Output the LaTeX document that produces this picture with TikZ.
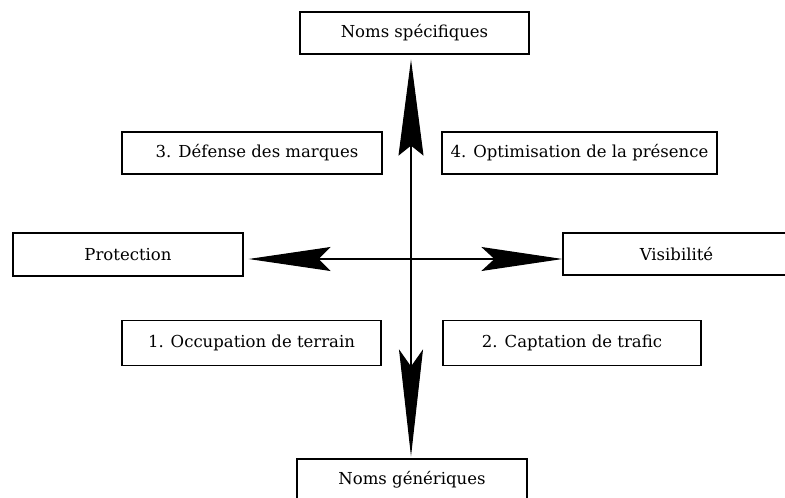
\documentclass[tikz,border=0pt]{standalone}
\usepackage{fontspec}
\setmainfont{DejaVu Serif}
\usetikzlibrary{arrows.meta}
\begin{document}
\begin{tikzpicture}[x=1pt,y=-1pt,
  box/.style={draw=black, line width=1.2pt, fill=white, rectangle, inner sep=0pt,
    font=\fontsize{16.5pt}{20pt}\selectfont},
  axis/.style={line width=1.1pt, black}]
\useasboundingbox (0,0) rectangle (785,498);
% boxes
\node[box, minimum width=229pt, minimum height=42pt] (top) at (414.5,33) {Noms spécifiques};
\node[box, minimum width=230pt, minimum height=42pt] (bot) at (412,480) {Noms génériques};
\node[box, minimum width=230pt, minimum height=43pt] (prot) at (128,254.5) {Protection};
\node[box, minimum width=227pt, minimum height=42pt] (vis) at (676.5,254) {Visibilité};
\node[box, minimum width=260pt, minimum height=42pt] (b3) at (252,153) {\hspace*{10pt}3. Défense des marques};
\node[box, minimum width=275pt, minimum height=42pt] (b4) at (579.5,153) {4. Optimisation de la présence};
\node[box, minimum width=259pt, minimum height=45pt] (b1) at (251.5,343) {1. Occupation de terrain};
\node[box, minimum width=258pt, minimum height=45pt] (b2) at (572,343) {2. Captation de trafic};
% axes
\coordinate (c) at (411,259);
\draw[axis, {Stealth[length=96pt,width=25pt,inset=10pt]}-{Stealth[length=107pt,width=24pt,inset=17pt]},
  shorten <=5pt, shorten >=2pt] (c |- top.south) -- (c |- bot.north);
\draw[axis, {Stealth[length=82pt,width=24pt,inset=12pt]}-{Stealth[length=81pt,width=24pt,inset=13pt]},
  shorten <=5pt] (c -| prot.east) -- (c -| vis.west);
\end{tikzpicture}
\end{document}
